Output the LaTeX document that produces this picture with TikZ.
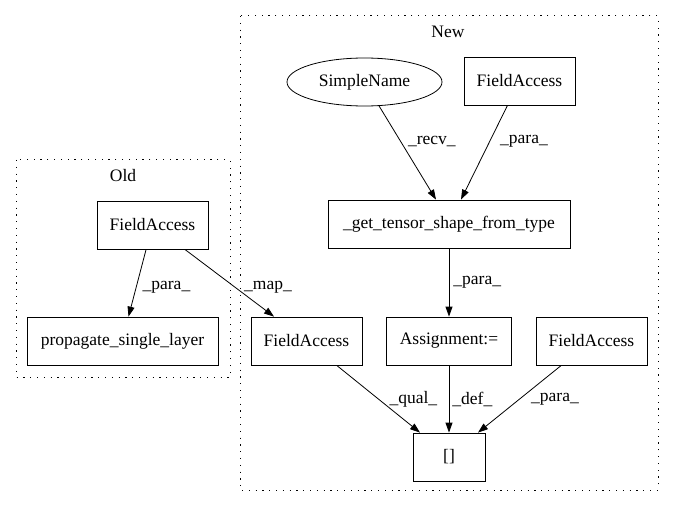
\documentclass[tikz,border=0pt]{standalone}
\usepackage{fontspec}
\setmainfont{Liberation Serif}
\usetikzlibrary{arrows.meta,shapes.geometric}

\begin{document}
\begin{tikzpicture}[x=1pt, y=-1pt,
        every node/.style={font=\fontsize{17.5}{20}\selectfont},
        box/.style={draw, rectangle, line width=0.8pt, minimum height=48pt, inner sep=0pt},
        oval/.style={draw, ellipse, line width=0.8pt, minimum width=155pt, minimum height=48pt, inner sep=0pt},
        cluster/.style={line width=1pt, dash pattern=on 1.2pt off 5.6pt},
        arr/.style={-{Triangle[length=10pt,width=7pt]}, line width=0.8pt},
        lbl/.style={anchor=west, inner sep=0pt}]
    \useasboundingbox (0,0) rectangle (675,508);
    \draw[cluster] (16,160) rectangle (230,377);
    \draw[cluster] (240,16) rectangle (658,490);
    \node (oldlbl) at (123,176) {Old};
    \node (newlbl) at (448,32) {New};
    \node[box, minimum width=111pt] (oldfa) at (152.5,225) {FieldAccess};
    \node[box, minimum width=191pt] (prop) at (122.5,341) {propagate\_single\_layer};
    \node[oval] (sname) at (364.5,82) {SimpleName};
    \node[box, minimum width=111pt] (topfa) at (519.5,81) {FieldAccess};
    \node[box, minimum width=242pt] (gettype) at (449,224) {\_get\_tensor\_shape\_from\_type};
    \node[box, minimum width=111pt] (midfa) at (306.5,341) {FieldAccess};
    \node[box, minimum width=125pt] (assign) at (449,341) {Assignment:=};
    \node[box, minimum width=111pt] (rightfa) at (591.5,341) {FieldAccess};
    \node[box, minimum width=72pt] (idx) at (449,457) {[]};
    \draw[arr] (oldfa) -- ([xshift=6pt]prop.north) node[lbl, pos=0.56, xshift=6pt] {\_para\_};
    \draw[arr] (oldfa) -- ([xshift=-32.5pt]midfa.north) node[lbl, pos=0.56, xshift=9pt] {\_map\_};
    \draw[arr] (sname) -- ([xshift=-13pt]gettype.north) node[lbl, pos=0.38, xshift=7pt] {\_recv\_};
    \draw[arr] (topfa) -- ([xshift=12pt]gettype.north) node[lbl, pos=0.38, xshift=10pt] {\_para\_};
    \draw[arr] (gettype) -- (assign) node[lbl, pos=0.5, xshift=4pt] {\_para\_};
    \draw[arr] (midfa) -- ([xshift=-29pt]idx.north) node[lbl, pos=0.51, xshift=10pt] {\_qual\_};
    \draw[arr] (assign) -- (idx) node[lbl, pos=0.5, xshift=3pt] {\_def\_};
    \draw[arr] (rightfa) -- ([xshift=29pt]idx.north) node[lbl, pos=0.51, xshift=12pt] {\_para\_};
\end{tikzpicture}
\end{document}
